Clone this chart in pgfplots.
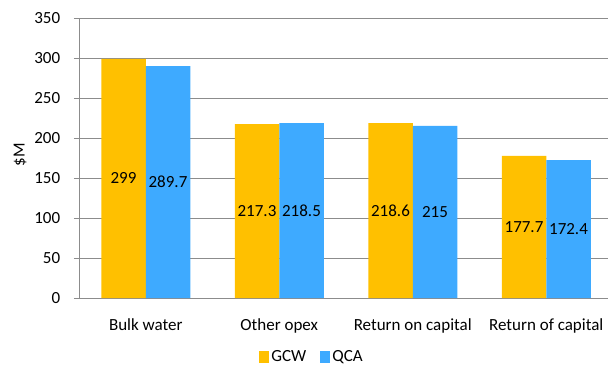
\documentclass[border=0pt]{standalone}
\usepackage{pgfplots}
\pgfplotsset{compat=1.18}
\usepackage{fontspec}
\setmainfont{Carlito}
\definecolor{gcw}{RGB}{255,192,0}
\definecolor{qca}{RGB}{62,170,255}
\definecolor{gridgray}{RGB}{140,140,140}

\begin{document}
\begin{tikzpicture}
\fontsize{17bp}{20bp}\selectfont
\begin{axis}[
  at={(0,0)}, anchor=south west,
  scale only axis,
  width=529bp, height=280bp,
  ybar=0pt, bar width=44.5bp,
  xmin=-0.5, xmax=3.4625,
  ymin=0, ymax=350,
  ytick={0,50,...,350},
  xtick={0,1,2,3},
  xticklabels={Bulk water,Other opex,Return on capital,Return of capital},
  extra x ticks={0.5,1.5,2.5},
  extra x tick labels={},
  extra x tick style={major tick length=5bp, tick style={gridgray, line width=0.8pt}, grid=none},
  x tick label style={yshift=-10bp},
  major x tick style={draw=none},
  ymajorgrids,
  grid style={gridgray, line width=0.8pt},
  axis x line*=bottom, axis y line*=left,
  axis line style={gridgray, line width=0.8pt, -},
  y tick style={gridgray, line width=0.8pt},
  tick align=outside,
  major tick length=5bp,
  yticklabel style={xshift=-8bp},
  ylabel={\$M},
  ylabel style={at={(rel axis cs:0,0.5)}, anchor=center, yshift=59bp, xshift=3bp},
  tick label style={font=\fontsize{17bp}{20bp}\selectfont},
  label style={font=\fontsize{17bp}{20bp}\selectfont},
  /pgf/number format/assume math mode=true,
  nodes near coords,
  point meta=y,
  every node near coord/.append style={
    font=\fontsize{17bp}{20bp}\selectfont, anchor=center, text=black,
    /pgf/number format/fixed, /pgf/number format/precision=1,
    shift={(axis direction cs:0,-\rawy/2)}},
  visualization depends on=y \as \rawy,
  legend style={
    at={(rel axis cs:0.4405,-0.2107)}, anchor=center,
    draw=none, fill=none,
    legend columns=2,
    font=\fontsize{17bp}{20bp}\selectfont,
    /tikz/every even column/.append style={column sep=12bp}},
  legend image code/.code={\fill[#1] (0bp,-6.3bp) rectangle (10bp,6.3bp);},
  clip=false,
]
\addplot[fill=gcw, draw=none] coordinates {(0,299) (1,217.3) (2,218.6) (3,177.7)};
\addplot[fill=qca, draw=none] coordinates {(0,289.7) (1,218.5) (2,215) (3,172.4)};
\legend{GCW,QCA}
\end{axis}
\pgfresetboundingbox
\useasboundingbox (-79bp,-74bp) rectangle (529bp,298bp);
\end{tikzpicture}
\end{document}
